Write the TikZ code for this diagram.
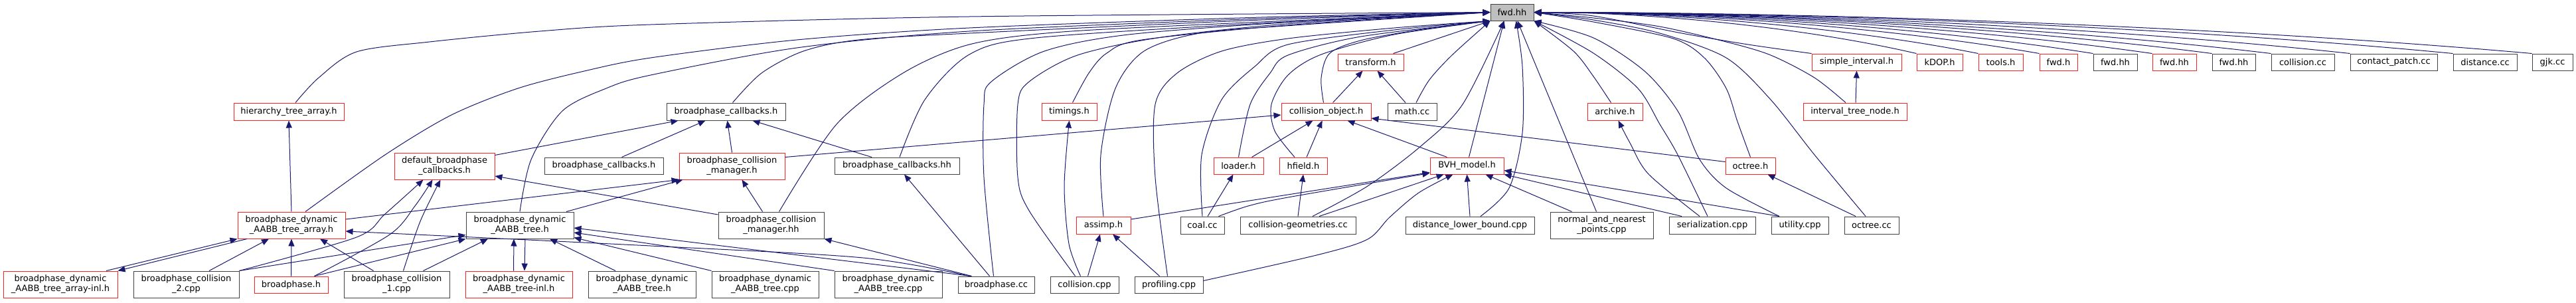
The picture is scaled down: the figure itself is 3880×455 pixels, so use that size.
\documentclass[tikz,border=0pt]{standalone}
\usepackage{fontspec}
\setmainfont{DejaVu Sans}
\usetikzlibrary{arrows.meta}
\definecolor{edgeblue}{HTML}{191970}
\definecolor{rootfill}{HTML}{BFBFBF}
\definecolor{boxgray}{HTML}{404040}
\definecolor{boxred}{HTML}{FF2020}
\begin{document}
\begin{tikzpicture}[x=1pt,y=-1pt,
  nbox/.style={draw=boxgray, fill=white, line width=1pt, inner sep=0pt, align=center, font=\fontsize{13}{15}\selectfont},
  rbox/.style={nbox, draw=boxred},
  sz/.style 2 args={minimum width=#1pt, minimum height=#2pt},
  edg/.style={draw=edgeblue, line width=1pt, -{Triangle[length=11pt,width=9pt]}, line join=round},
]
\useasboundingbox (0,0) rectangle (3880,455);
% ---------- row 0
\node[nbox, fill=rootfill, sz={65}{25}] (fwd) at (2277.5,18.5) {fwd.hh};
% ---------- row 1
\node[rbox, sz={99}{25}] (transform) at (2064.5,93.5) {transform.h};
\node[rbox, sz={135}{25}] (simpint) at (2796.5,93.5) {simple\_interval.h};
\node[rbox, sz={69}{25}] (kdop) at (2921.5,93.5) {kDOP.h};
\node[rbox, sz={67}{25}] (tools) at (3013.5,93.5) {tools.h};
\node[rbox, sz={57}{25}] (fwdh) at (3100.5,93.5) {fwd.h};
\node[nbox, sz={66}{25}] (fwdhha) at (3186,93.5) {fwd.hh};
\node[rbox, sz={66}{25}] (fwdhhb) at (3275,93.5) {fwd.hh};
\node[nbox, sz={65}{25}] (fwdhhc) at (3364.5,93.5) {fwd.hh};
\node[nbox, sz={95}{25}] (collcc) at (3468.5,93.5) {collision.cc};
\node[nbox, sz={131}{25}] (contact) at (3605.5,93.5) {contact\_patch.cc};
\node[nbox, sz={96}{25}] (distcc) at (3743,93.5) {distance.cc};
\node[nbox, sz={61}{25}] (gjk) at (3844.5,93.5) {gjk.cc};
% ---------- row 2
\node[rbox, sz={166}{26}] (hta) at (435,168) {hierarchy\_tree\_array.h};
\node[nbox, sz={179}{26}] (bcbh) at (1093.5,168) {broadphase\_callbacks.h};
\node[rbox, sz={83}{26}] (timings) at (1610.5,168) {timings.h};
\node[rbox, sz={135}{26}] (collobj) at (1997.5,168) {collision\_object.h};
\node[nbox, sz={74}{26}] (mathcc) at (2127,168) {math.cc};
\node[rbox, sz={83}{26}] (archive) at (2432.5,168) {archive.h};
\node[rbox, sz={156}{26}] (itn) at (2794,168) {interval\_tree\_node.h};
% ---------- row 3
\node[rbox, sz={151}{40}] (dbc) at (669.5,250) {default\_broadphase\\\_callbacks.h};
\node[nbox, sz={179}{25}] (bcbhm) at (909.5,249.5) {broadphase\_callbacks.h};
\node[rbox, sz={159}{40}] (bcmh) at (1102.5,250) {broadphase\_collision\\\_manager.h};
\node[nbox, sz={188}{25}] (bcbhh) at (1351,249.5) {broadphase\_callbacks.hh};
\node[rbox, sz={75}{25}] (loader) at (1865.5,249.5) {loader.h};
\node[rbox, sz={72}{25}] (hfield) at (1963,249.5) {hfield.h};
\node[rbox, sz={111}{25}] (bvh) at (2209.5,249.5) {BVH\_model.h};
\node[rbox, sz={75}{25}] (octreeh) at (2636.5,249.5) {octree.h};
% ---------- row 4
\node[rbox, sz={162}{40}] (bdta) at (439,339) {broadphase\_dynamic\\\_AABB\_tree\_array.h};
\node[nbox, sz={162}{40}] (bdt) at (783,339) {broadphase\_dynamic\\\_AABB\_tree.h};
\node[nbox, sz={159}{40}] (bcmhh) at (1161.5,339) {broadphase\_collision\\\_manager.hh};
\node[rbox, sz={82}{26}] (assimp) at (1662,339) {assimp.h};
\node[nbox, sz={66}{26}] (coalcc) at (1811,339) {coal.cc};
\node[nbox, sz={174}{26}] (collgeom) at (1955,339) {collision-geometries.cc};
\node[nbox, sz={194}{26}] (dlb) at (2214,339) {distance\_lower\_bound.cpp};
\node[nbox, sz={155}{40}] (nnp) at (2412.5,339) {normal\_and\_nearest\\\_points.cpp};
\node[nbox, sz={130}{26}] (serial) at (2579,339) {serialization.cpp};
\node[nbox, sz={86}{26}] (utility) at (2711,339) {utility.cpp};
\node[nbox, sz={82}{26}] (octreecc) at (2819,339) {octree.cc};
% ---------- row 5
\node[rbox, sz={172}{40}] (bdtainl) at (91,428) {broadphase\_dynamic\\\_AABB\_tree\_array-inl.h};
\node[nbox, sz={159}{40}] (bc2) at (280.5,428) {broadphase\_collision\\\_2.cpp};
\node[rbox, sz={111}{25}] (bph) at (438.5,428.5) {broadphase.h};
\node[nbox, sz={159}{40}] (bc1) at (597.5,428) {broadphase\_collision\\\_1.cpp};
\node[rbox, sz={161}{40}] (bdtinl) at (781.5,428) {broadphase\_dynamic\\\_AABB\_tree-inl.h};
\node[nbox, sz={162}{40}] (bdtb) at (967,428) {broadphase\_dynamic\\\_AABB\_tree.h};
\node[nbox, sz={161}{40}] (bdtcppa) at (1152.5,428) {broadphase\_dynamic\\\_AABB\_tree.cpp};
\node[nbox, sz={162}{40}] (bdtcppb) at (1338,428) {broadphase\_dynamic\\\_AABB\_tree.cpp};
\node[nbox, sz={115}{25}] (bpcc) at (1500.5,428.5) {broadphase.cc};
\node[nbox, sz={103}{25}] (collcpp) at (1633.5,428.5) {collision.cpp};
\node[nbox, sz={103}{25}] (profcpp) at (1760.5,428.5) {profiling.cpp};

% ================= edges to fwd.hh
\draw[edg] plot[smooth] coordinates {([xshift=10pt]hta.north) (480,117) (537,78) (647,63) (813,47) (980,37) (1460,25) (fwd.west)};
\draw[edg] plot[smooth] coordinates {([xshift=21pt]bdta.north) (580,233) (680,173) (780,133) (880,107) (980,87) (1200,60) (1460,42) (1900,26) (fwd.west)};
\draw[edg] plot[smooth] coordinates {(bdt.north) (800,240) (847,167) (913,133) (980,113) (1200,72) (1460,47) (1900,28) (fwd.west)};
\draw[edg] plot[smooth] coordinates {([xshift=10pt]bcbh.north) (1147,110) (1210,77) (1293,60) (1460,50) (1900,30) (fwd.west)};
\draw[edg] plot[smooth] coordinates {([xshift=12pt]bcmhh.north) (1260,187) (1360,110) (1460,67) (1600,48) (1900,33) (fwd.west)};
\draw[edg] plot[smooth] coordinates {([xshift=4pt]bcbhh.north) (1393,150) (1460,82) (1560,57) (1900,35) (fwd.west)};
\draw[edg] plot[smooth] coordinates {([xshift=-4pt]bpcc.north) (1482,267) (1482,157) (1493,123) (1573,77) (1700,52) (1950,33) (fwd.west)};
\draw[edg] plot[smooth] coordinates {([xshift=-14pt]collcpp.north) (1550,317) (1533,267) (1533,157) (1550,123) (1623,83) (1750,56) (1950,35) (fwd.west)};
\draw[edg] plot[smooth] coordinates {([xshift=5pt]timings.north) (1640,110) (1667,80) (1720,60) (1950,37) (fwd.west)};
\draw[edg] plot[smooth] coordinates {(assimp.north) (1658,233) (1680,133) (1723,77) (1807,50) (1950,38) (fwd.west)};
\draw[edg] plot[smooth] coordinates {([xshift=-2pt]profcpp.north) (1740,267) (1740,157) (1773,110) (1840,77) (1940,58) (2100,42) (fwd.south west)};
\draw[edg] plot[smooth] coordinates {(coalcc.north) (1810,233) (1840,150) (1890,100) (1940,67) (2100,45) (fwd.south west)};
\draw[edg] plot[smooth] coordinates {(loader.north) (1883,157) (1913,110) (1940,83) (2050,55) (fwd.south west)};
\draw[edg] plot[smooth] coordinates {([xshift=-13pt]hfield.north) (1920,197) (1915,157) (1940,113) (1990,82) (2100,52) (fwd.south west)};
\draw[edg] plot[smooth] coordinates {([xshift=-4pt]collobj.north) (1990,117) (2003,80) (2053,60) (2150,43) (fwd.south west)};
\draw[edg] ([xshift=34pt]transform.north) -- (fwd.south west);
\draw[edg] plot[smooth] coordinates {([xshift=6pt]mathcc.north) (2153,120) (2187,83) (fwd.south west)};
\draw[edg] plot[smooth] coordinates {([xshift=22pt]collgeom.north) (2060,280) (2140,220) (2203,157) ([xshift=-12pt]fwd.south)};
\draw[edg] ([xshift=3pt]bvh.north) -- ([xshift=-12pt]fwd.south);
\draw[edg] plot[smooth] coordinates {([xshift=16pt]dlb.north) (2273,283) (2293,200) (2293,100) ([xshift=6pt]fwd.south)};
\draw[edg] ([xshift=-8pt]nnp.north) -- ([xshift=8pt]fwd.south);
\draw[edg] plot[smooth] coordinates {([xshift=-6pt]archive.north) (2400,115) (2370,77) (fwd.south east)};
\draw[edg] plot[smooth] coordinates {([xshift=-7pt]serial.north) (2527,233) (2500,187) (2467,133) (2400,80) (fwd.south east)};
\draw[edg] plot[smooth] coordinates {([xshift=-31pt]utility.north) (2600,283) (2560,240) (2527,167) (2477,107) (2400,57) (fwd.south east)};
\draw[edg] plot[smooth] coordinates {(octreeh.north) (2617,183) (2600,133) (2567,87) (2520,58) (2400,33) (fwd.east)};
\draw[edg] plot[smooth] coordinates {([xshift=-9pt]octreecc.north) (2733,233) (2667,150) (2600,87) (2500,50) (2400,30) (fwd.east)};
\draw[edg] plot[smooth] coordinates {([xshift=-14pt]itn.north) (2733,117) (2667,83) (2600,63) (2500,40) (2400,27) (fwd.east)};
\draw[edg] plot[smooth] coordinates {(simpint.north west) (2633,67) (2533,50) (2400,24) (fwd.east)};
\draw[edg] (kdop.north west) .. controls +(-173,-40) and +(173,0) .. (fwd.east);
\draw[edg] (tools.north west) .. controls +(-201,-40) and +(201,0) .. (fwd.east);
\draw[edg] (fwdh.north west) .. controls +(-229,-40) and +(229,0) .. (fwd.east);
\draw[edg] (fwdhha.north west) .. controls +(-253,-40) and +(253,0) .. (fwd.east);
\draw[edg] (fwdhhb.north west) .. controls +(-280,-40) and +(280,0) .. (fwd.east);
\draw[edg] (fwdhhc.north west) .. controls +(-307,-40) and +(307,0) .. (fwd.east);
\draw[edg] (collcc.north west) .. controls +(-333,-40) and +(333,0) .. (fwd.east);
\draw[edg] (contact.north west) .. controls +(-369,-40) and +(369,0) .. (fwd.east);
\draw[edg] (distcc.north west) .. controls +(-416,-40) and +(416,0) .. (fwd.east);
\draw[edg] (gjk.north west) .. controls +(-451,-40) and +(451,0) .. (fwd.east);

% ================= other edges
\draw[edg] (bdta.north) -- (hta.south);
\draw[edg] ([xshift=69pt]bdtainl.north) -- (bdta.south west);
\draw[edg] ([xshift=-67pt]bdta.south) -- (bdtainl.north east);
\draw[edg] ([xshift=34.5pt]bc2.north) -- ([xshift=-34pt]bdta.south);
\draw[edg] (bph.north) -- (bdta.south);
\draw[edg] ([xshift=-35pt]bc1.north) -- ([xshift=43pt]bdta.south);
\draw[edg] plot[smooth] coordinates {(bc2.north east) (537,357) (580,322) ([xshift=-32pt]dbc.south)};
\draw[edg] plot[smooth] coordinates {([xshift=35pt]bph.north) (587,353) (625,310) ([xshift=-18pt]dbc.south)};
\draw[edg] plot[smooth] coordinates {([xshift=10pt]bc1.north) (633,333) ([xshift=-6pt]dbc.south)};
\draw[edg] (bc2.north east) -- ([yshift=6pt]bdt.south west);
\draw[edg] ([xshift=35pt]bph.north) -- (bdt.south west);
\draw[edg] ([xshift=40pt]bc1.north) -- ([xshift=-48pt]bdt.south);
\draw[edg] ([yshift=9pt]bdta.east) -- (bcmh.south west);
\draw[edg] ([xshift=70pt]bdt.north) -- ([xshift=6pt]bcmh.south west);
\draw[edg] ([xshift=-13pt]bcmhh.north) -- ([xshift=15pt]bcmh.south);
\draw[edg] ([yshift=16pt]bcmhh.west) -- ([yshift=-15pt]dbc.east);
\draw[edg] ([yshift=-4pt]dbc.north east) -- ([xshift=18pt]bcbh.south west);
\draw[edg] ([xshift=27pt]bcbhm.north) -- ([xshift=59pt]bcbh.south west);
\draw[edg] (bcmh.north) -- ([xshift=2pt]bcbh.south);
\draw[edg] ([xshift=-38pt]bcbhh.north) -- ([xshift=40pt]bcbh.south);
\draw[edg] ([yshift=-7pt]bcmh.north east) -- ([yshift=-5pt]collobj.west);
\draw[edg] ([xshift=-8pt]bdtinl.north) -- ([xshift=-9pt]bdt.south);
\draw[edg] ([xshift=8pt]bdt.south) -- ([xshift=8.5pt]bdtinl.north);
\draw[edg] ([xshift=-40pt]bdtb.north) -- ([xshift=45pt]bdt.south);
\draw[edg] (bdtcppa.north west) -- ([yshift=2pt]bdt.south east);
\draw[edg] (bdtcppb.north west) -- ([yshift=-11pt]bdt.east);
\draw[edg] ([xshift=-38pt]bpcc.north) -- ([yshift=-4pt]bdt.east);
\draw[edg] plot[smooth] coordinates {([xshift=-40pt]bpcc.north) (1300,388) (980,370) ([yshift=-9pt]bdta.east)};
\draw[edg] ([xshift=-37pt]bpcc.north) -- (bcmhh.south east);
\draw[edg] ([xshift=-10pt]bpcc.north) -- ([xshift=11pt]bcbhh.south);
\draw[edg] plot[smooth] coordinates {([xshift=-6pt]collcpp.north) (1610,367) (1603,280) (timings.south)};
\draw[edg] ([xshift=5pt]collcpp.north) -- ([xshift=-5pt]assimp.south);
\draw[edg] ([xshift=-14pt]profcpp.north) -- ([xshift=14pt]assimp.south);
\draw[edg] plot[smooth] coordinates {([yshift=6pt]profcpp.east) (1987,383) (2060,360) (2093,327) (2137,290) ([xshift=-21pt]bvh.south)};
\draw[edg] ([yshift=9pt]assimp.east) -- ([yshift=-10pt]bvh.west);
\draw[edg] plot[smooth] coordinates {([xshift=-9pt]coalcc.north east) (1880,310) (1940,297) ([yshift=-11pt]bvh.west)};
\draw[edg] ([xshift=8pt]coalcc.north) -- ([xshift=-8pt]loader.south);
\draw[edg] ([xshift=20pt]loader.north) -- ([xshift=-20pt]collobj.south);
\draw[edg] ([xshift=5pt]hfield.north) -- ([xshift=-6pt]collobj.south);
\draw[edg] (collgeom.north) -- (hfield.south);
\draw[edg] ([xshift=32pt]collgeom.north) -- ([xshift=-35pt]bvh.south);
\draw[edg] ([xshift=10pt]collobj.north) -- ([xshift=-12pt]transform.south);
\draw[edg] ([xshift=-10pt]mathcc.north) -- ([xshift=10pt]transform.south);
\draw[edg] ([xshift=-30pt]bvh.north) -- ([xshift=32pt]collobj.south);
\draw[edg] (dlb.north) -- (bvh.south);
\draw[edg] ([xshift=-45pt]nnp.north) -- ([xshift=28pt]bvh.south);
\draw[edg] ([xshift=-46pt]serial.north) -- (bvh.south east);
\draw[edg] ([xshift=-31pt]utility.north) -- ([yshift=-7pt]bvh.east);
\draw[edg] plot[smooth] coordinates {([xshift=-19pt]serial.north) (2483,262) (2455,215) ([xshift=5pt]archive.south)};
\draw[edg] ([yshift=6pt]octreeh.west) -- ([yshift=-10pt]collobj.east);
\draw[edg] ([xshift=-24pt]octreecc.north) -- ([xshift=26pt]octreeh.south);
\draw[edg] ([xshift=1pt]itn.north) -- (simpint.south);
\end{tikzpicture}
\end{document}
